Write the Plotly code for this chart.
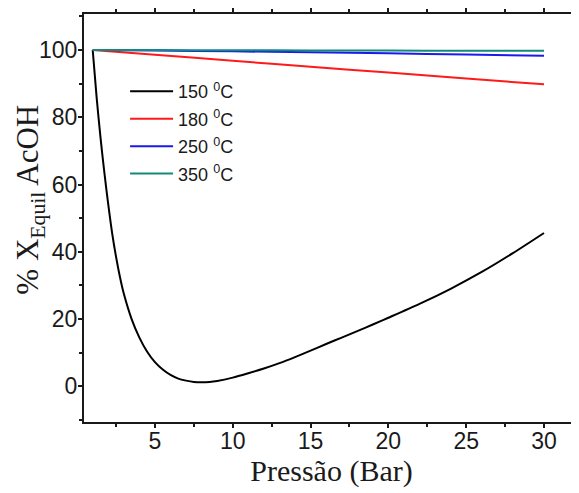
import plotly.graph_objects as go

# Pressure (bar)
x_150 = [1, 1.25, 1.5, 1.75, 2, 2.25, 2.5, 2.75, 3, 3.5, 4, 4.5, 5, 5.5, 6, 6.5, 7, 7.5, 8, 8.5, 9,
         10, 11, 12, 13, 14, 15, 16, 17, 18, 19, 20, 22, 24, 26, 28, 30]
y_150 = [100, 86, 74, 63.5, 54, 45.5, 38.5, 32.5, 27.5, 20, 14.5, 10.3, 7.2, 5.0, 3.4, 2.3, 1.7, 1.3, 1.2, 1.3, 1.6,
         2.6, 3.9, 5.3, 6.9, 8.7, 10.6, 12.6, 14.5, 16.4, 18.4, 20.4, 24.5, 29.0, 34.0, 39.6, 45.6]

x_other = [1, 5, 10, 15, 20, 25, 30]
y_180 = [100, 98.6, 96.8, 95.0, 93.3, 91.5, 89.8]
y_250 = [100, 99.85, 99.6, 99.3, 99.0, 98.65, 98.3]
y_350 = [100, 99.97, 99.93, 99.88, 99.83, 99.78, 99.75]

series_names = ["150 <sup>0</sup>C", "180 <sup>0</sup>C", "250 <sup>0</sup>C", "350 <sup>0</sup>C"]
colors = ["#000000", "#ff1a1a", "#1a1aee", "#128a7a"]

x_ticks = [5, 10, 15, 20, 25, 30]
y_ticks = [0, 20, 40, 60, 80, 100]

x_title = "Pressão (Bar)"
y_title = "% X<sub>Equil</sub> AcOH"

fig = go.Figure()
for xs, ys, name, c in [(x_150, y_150, series_names[0], colors[0]),
                        (x_other, y_180, series_names[1], colors[1]),
                        (x_other, y_250, series_names[2], colors[2]),
                        (x_other, y_350, series_names[3], colors[3])]:
    fig.add_trace(go.Scatter(x=xs, y=ys, mode="lines", name=name, legendgroup=name,
                             line=dict(color=c, width=2, shape="spline", smoothing=0.8)))

# invisible trace for the mirrored top axis
fig.add_trace(go.Scatter(x=x_150, y=y_150, xaxis="x2", mode="lines",
                         line=dict(width=0, color="rgba(0,0,0,0)"),
                         showlegend=False, hoverinfo="skip"))

axis_common = dict(showline=True, linecolor="#1a1a1a", linewidth=2, ticks="outside",
                   ticklen=4, tickwidth=1.5, tickcolor="#1a1a1a", showgrid=False, zeroline=False,
                   automargin=False)

serif = "Liberation Serif, Times New Roman, serif"

fig.update_layout(
    width=571, height=485,
    margin=dict(l=76, r=0, t=6, b=71),
    paper_bgcolor="white", plot_bgcolor="white",
    font=dict(family="Liberation Sans, Arial, sans-serif", color="#1a1a1a", size=23),
    xaxis=dict(range=[0.44, 32.25], tickvals=x_ticks, ticklabelstandoff=-7,
               minor=dict(dtick=2.5, tick0=0, ticks="outside", ticklen=3, tickcolor="#1a1a1a"),
               title=dict(text=x_title, standoff=4, font=dict(family=serif, size=30)),
               **axis_common),
    xaxis2=dict(overlaying="x", side="top", matches="x", showticklabels=False,
                tickvals=x_ticks,
                minor=dict(dtick=2.5, tick0=0, ticks="outside", ticklen=3, tickcolor="#1a1a1a"),
                **axis_common),
    yaxis=dict(range=[-10.6, 110.7], tickvals=y_ticks, ticklabelstandoff=-4,
               minor=dict(dtick=10, tick0=0, ticks="outside", ticklen=3, tickcolor="#1a1a1a"),
               **axis_common),
    legend=dict(x=0.083, y=0.855, xanchor="left", yanchor="top", bgcolor="rgba(0,0,0,0)",
                font=dict(size=18), itemwidth=43, tracegroupgap=1),
    showlegend=True,
)

fig.add_annotation(text=y_title, xref="paper", yref="paper", x=-0.109, y=0.545,
                   xanchor="center", yanchor="middle", textangle=-90, showarrow=False,
                   font=dict(family=serif, size=31, color="#1a1a1a"))

fig.write_html("out.html")
